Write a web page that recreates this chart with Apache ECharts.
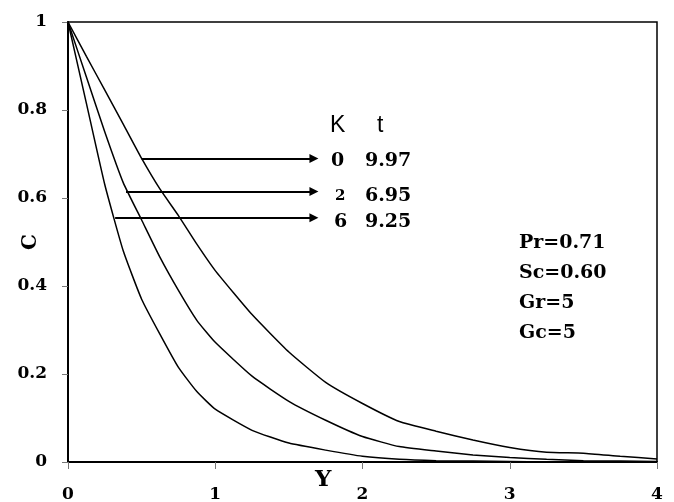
<!DOCTYPE html>
<html>
<head>
<meta charset="utf-8">
<script src="https://cdn.jsdelivr.net/npm/echarts@6/dist/echarts.min.js"></script>
<style>
  html, body { margin: 0; padding: 0; background: #fff; }
  #chart { width: 674px; height: 502px; }
</style>
</head>
<body>
<div id="chart"></div>
<script>
// Concentration profiles C(Y) for three values of the chemical reaction parameter K
const yPos = [0, 0.125, 0.25, 0.375, 0.5, 0.625, 0.75, 0.875, 1.0, 1.25, 1.5, 1.75,
              2.0, 2.25, 2.5, 2.75, 3.0, 3.25, 3.5, 3.75, 4.0];
const concK0 = [1, 0.922, 0.845, 0.768, 0.69, 0.62, 0.56, 0.495, 0.435, 0.335, 0.25, 0.181,
                0.133, 0.092, 0.07, 0.05, 0.033, 0.022, 0.02, 0.013, 0.007];
const concK2 = [1, 0.875, 0.75, 0.635, 0.55, 0.465, 0.39, 0.322, 0.272, 0.195, 0.138, 0.095,
                0.058, 0.035, 0.025, 0.016, 0.01, 0.006, 0.003, 0.002, 0.001];
const concK6 = [1, 0.815, 0.63, 0.48, 0.37, 0.29, 0.215, 0.16, 0.12, 0.072, 0.043, 0.027,
                0.013, 0.006, 0.003, 0.002, 0.001, 0, 0, 0, 0];
const kValues = ['0', '2', '6'];
const tValues = ['9.97', '6.95', '9.25'];
const params = ['Pr=0.71', 'Sc=0.60', 'Gr=5', 'Gc=5'];

const SERIF = '"DejaVu Serif", serif';

function pairs(ys) { return yPos.map((x, i) => [x, ys[i]]); }

// leader arrow from a curve to its legend entry, in data coordinates
function arrow(x0, y, x1) {
  return {
    silent: true,
    symbol: ['none', 'triangle'],
    symbolSize: [9, 9],
    lineStyle: { color: '#000', width: 2, type: 'solid' },
    itemStyle: { color: '#000' },
    label: { show: false },
    emphasis: { disabled: true },
    data: [[{ coord: [x0, y] }, { coord: [x1, y] }]]
  };
}

function curve(name, ys, mark) {
  return {
    name: name,
    type: 'line',
    data: pairs(ys),
    showSymbol: false,
    smooth: 0.15,
    lineStyle: { color: '#000', width: 1.5 },
    itemStyle: { color: '#000' },
    markLine: mark
  };
}

const chart = echarts.init(document.getElementById('chart'), null, { renderer: 'canvas' });

const graphics = [
  { type: 'text', left: 330, top: 114, style: { text: 'K', font: '23px "Liberation Sans", Arial, sans-serif', fill: '#000' } },
  { type: 'text', left: 377, top: 114, style: { text: 't', font: '23px "Liberation Sans", Arial, sans-serif', fill: '#000' } },
  { type: 'text', left: 331, top: 152, style: { text: kValues[0], font: 'bold 19px ' + SERIF, fill: '#000' } },
  { type: 'text', left: 365, top: 152, style: { text: tValues[0], font: 'bold 19px ' + SERIF, fill: '#000' } },
  { type: 'text', left: 335, top: 189, style: { text: kValues[1], font: 'bold 15px ' + SERIF, fill: '#000' } },
  { type: 'text', left: 365, top: 187, style: { text: tValues[1], font: 'bold 19px ' + SERIF, fill: '#000' } },
  { type: 'text', left: 334, top: 213, style: { text: kValues[2], font: 'bold 19px ' + SERIF, fill: '#000' } },
  { type: 'text', left: 365, top: 213, style: { text: tValues[2], font: 'bold 19px ' + SERIF, fill: '#000' } },
  { type: 'text', left: 315, top: 469, style: { text: 'Y', font: 'bold 23px ' + SERIF, fill: '#000' } }
];
params.forEach((p, i) => {
  graphics.push({ type: 'text', left: 519, top: 234 + i * 30,
    style: { text: p, font: 'bold 19px ' + SERIF, fill: '#000' } });
});

chart.setOption({
  animation: false,
  backgroundColor: '#fff',
  grid: {
    left: 68, right: 17, top: 22, bottom: 40,
    containLabel: false, outerBoundsMode: 'none',
    show: true, borderColor: '#000', borderWidth: 1.5, backgroundColor: 'transparent'
  },
  xAxis: {
    type: 'value', min: 0, max: 4, interval: 1,
    axisLine: { show: true, onZero: false, lineStyle: { color: '#000', width: 2 } },
    axisTick: { show: true, length: 7, lineStyle: { color: '#777', width: 1 } },
    axisLabel: { margin: 24, color: '#000', fontFamily: SERIF, fontWeight: 'bold', fontSize: 17 },
    splitLine: { show: false }
  },
  yAxis: {
    type: 'value', min: 0, max: 1, interval: 0.2,
    name: 'C', nameLocation: 'middle', nameGap: 27, nameRotate: 90, nameMoveOverlap: false,
    nameTextStyle: { color: '#000', fontFamily: SERIF, fontWeight: 'bold', fontSize: 20 },
    axisLine: { show: true, onZero: false, lineStyle: { color: '#000', width: 2 } },
    axisTick: { show: true, length: 6, lineStyle: { color: '#777', width: 1 } },
    axisLabel: { margin: 21, color: '#000', fontFamily: SERIF, fontWeight: 'bold', fontSize: 17 },
    splitLine: { show: false }
  },
  series: [
    curve('K=0', concK0, arrow(0.5, 0.69, 1.67)),
    curve('K=2', concK2, arrow(0.394, 0.615, 1.67)),
    curve('K=6', concK6, arrow(0.32, 0.555, 1.67))
  ],
  graphic: graphics
});
</script>
</body>
</html>
